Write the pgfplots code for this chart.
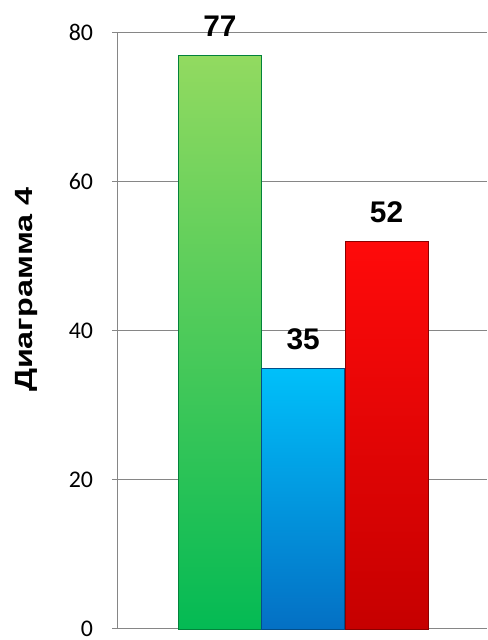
\documentclass[border=0pt]{standalone}
\usepackage{fontspec}
\setmainfont{Liberation Sans}
\newfontfamily\carlito{Carlito}
\usepackage{pgfplots}
\pgfplotsset{compat=1.18}

\definecolor{gridgray}{RGB}{134,134,134}
\definecolor{gTop}{RGB}{146,218,96}
\definecolor{gBot}{RGB}{4,186,84}
\definecolor{bTop}{RGB}{0,192,250}
\definecolor{bBot}{RGB}{4,112,196}
\definecolor{rTop}{RGB}{255,10,10}
\definecolor{rBot}{RGB}{198,0,0}

\begin{document}
\begin{tikzpicture}[x=1pt,y=1pt]
\begin{axis}[
  name=ax,
  at={(0,0)}, anchor=south west,
  scale only axis,
  width=371pt, height=599pt,
  xmin=-1.23, xmax=3.2,
  ymin=0, ymax=80,
  ytick={0,20,40,60,80},
  xtick=\empty,
  /pgf/number format/assume math mode=true,
  axis x line*=bottom,
  axis y line*=left,
  axis line style={gridgray, line width=1.2pt},
  ymajorgrids,
  grid style={gridgray, line width=1pt},
  major tick length=5pt,
  tick align=outside,
  tick style={gridgray, line width=1pt},
  yticklabel style={font=\carlito\fontsize{24}{24}\selectfont, xshift=-16pt},
  ylabel={Диаграмма 4},
  every axis y label/.style={at={(rel axis cs:-0.245,0.569)}, rotate=90, xscale=1.3,
    anchor=center, font=\bfseries\fontsize{25}{25}\selectfont},
  ybar, bar width=83.5pt,
  nodes near coords,
  every node near coord/.append style={font=\bfseries\fontsize{30}{30}\selectfont,
    inner sep=0pt, anchor=south, yshift=18pt, text=black},
  clip=false,
]
  \coordinate (o) at (rel axis cs:0,0);
  \addplot[bar shift=0pt, draw=gBot!70!black, line width=0.6pt,
    shading=axis, top color=gTop, bottom color=gBot] coordinates {(0,77)};
  \addplot[bar shift=0pt, draw=bBot!70!black, line width=0.6pt,
    shading=axis, top color=bTop, bottom color=bBot] coordinates {(1,35)};
  \addplot[bar shift=0pt, draw=rBot!70!black, line width=0.6pt,
    shading=axis, top color=rTop, bottom color=rBot] coordinates {(2,52)};
\end{axis}
\useasboundingbox ([shift={(-118pt,-8pt)}]o) rectangle ++(489pt,640pt);
\end{tikzpicture}
\end{document}
